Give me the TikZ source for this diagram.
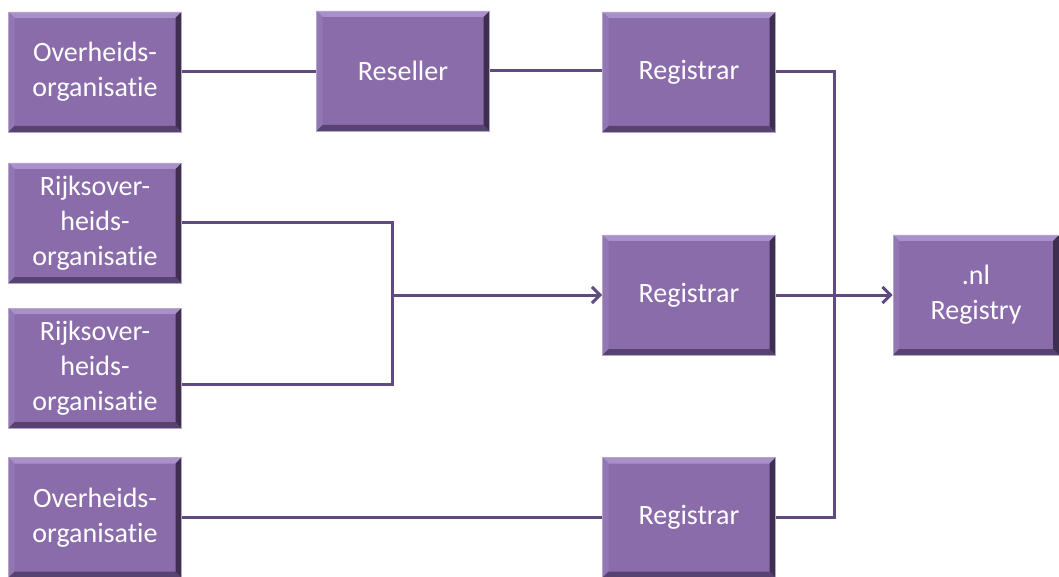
\documentclass[tikz,border=0pt]{standalone}
\usepackage{fontspec}
\setmainfont{Carlito}[Ligatures={NoCommon}]
\usetikzlibrary{arrows.meta}
\definecolor{boxfill}{HTML}{8A6CAB}
\definecolor{bvtop}{HTML}{A990C8}
\definecolor{bvleft}{HTML}{9277B4}
\definecolor{bvright}{HTML}{3E2F50}
\definecolor{bvbottom}{HTML}{574370}
\definecolor{boxedge}{HTML}{B3A6C6}
\definecolor{conn}{HTML}{5F4A82}
\tikzset{
  pbox/.style={rectangle, fill=boxfill, draw=boxedge, line width=0.8pt,
    minimum width=173pt, minimum height=120pt, inner sep=0pt, align=center,
    text=white, font=\fontsize{28}{35}\selectfont,
    path picture={
      \fill[bvtop] (path picture bounding box.north west) -- (path picture bounding box.north east)
        -- ([shift={(-6pt,-6pt)}]path picture bounding box.north east) -- ([shift={(6pt,-6pt)}]path picture bounding box.north west) -- cycle;
      \fill[bvleft] (path picture bounding box.north west) -- (path picture bounding box.south west)
        -- ([shift={(6pt,6pt)}]path picture bounding box.south west) -- ([shift={(6pt,-6pt)}]path picture bounding box.north west) -- cycle;
      \fill[bvbottom] (path picture bounding box.south west) -- (path picture bounding box.south east)
        -- ([shift={(-6pt,6pt)}]path picture bounding box.south east) -- ([shift={(6pt,6pt)}]path picture bounding box.south west) -- cycle;
      \fill[bvright] (path picture bounding box.north east) -- (path picture bounding box.south east)
        -- ([shift={(-6pt,6pt)}]path picture bounding box.south east) -- ([shift={(-6pt,-6pt)}]path picture bounding box.north east) -- cycle;
    }},
  link/.style={draw=conn, line width=3pt},
  arr/.style={link, -{Straight Barb[length=8pt,width=16pt,line width=3pt]}}
}
\begin{document}
\begin{tikzpicture}[x=1pt,y=-1pt]
\useasboundingbox (0,0) rectangle (1059,577);
\node[pbox] (o1) at (95,72) {Overheids-\\organisatie};
\node[pbox] (res) at (403,71) {Reseller};
\node[pbox] (reg1) at (689,72) {Registrar};
\node[pbox] (r1) at (95,223) {Rijksover-\\heids-\\organisatie};
\node[pbox] (r2) at (95,368) {Rijksover-\\heids-\\organisatie};
\node[pbox] (reg2) at (689,295) {Registrar};
\node[pbox, minimum width=166pt] (nl) at (976,295) {.nl\\Registry};
\node[pbox] (o2) at (95,517.5) {Overheids-\\organisatie};
\node[pbox] (reg3) at (689,517.5) {Registrar};
\coordinate (bt) at (834,72);
\coordinate (bb) at (834,517.5);
\coordinate (jt) at (392,223);
\coordinate (jb) at (392,384);
\coordinate (jm) at (392,295);
\coordinate (r2out) at (182,384);
\draw[link] (o1.east) -- (res.west |- o1.east);
\draw[link] (res.east) -- (reg1.west |- res.east);
\draw[link] (reg1.east) -- (bt) -- (bb) -- (reg3.east);
\draw[link] (o2.east) -- (reg3.west);
\draw[link] (r1.east) -- (jt) -- (jb) -- (r2out);
\draw[arr] (jm) -- (reg2.west);
\draw[arr] (reg2.east) -- (nl.west);
\end{tikzpicture}
\end{document}
